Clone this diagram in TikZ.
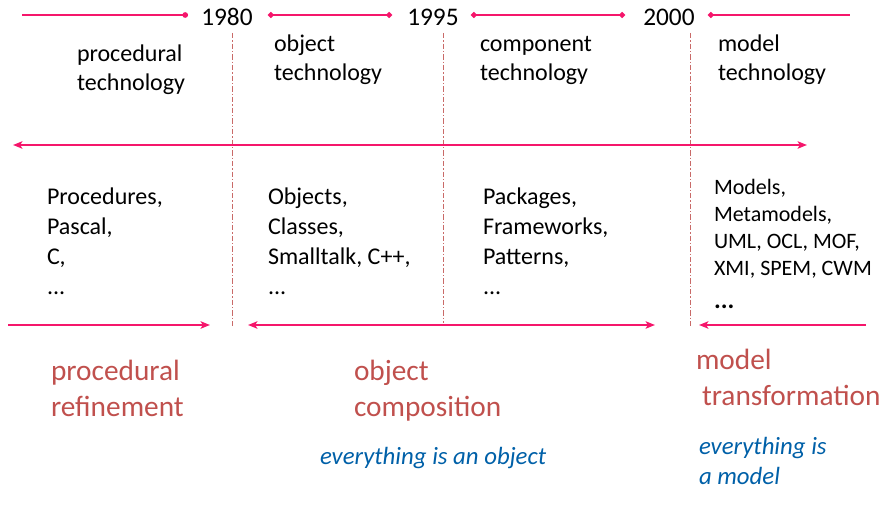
\documentclass[tikz,border=0pt]{standalone}
\usepackage{fontspec}
\setmainfont{Carlito}
\usetikzlibrary{arrows.meta}
\definecolor{pinkline}{HTML}{F5166B}
\definecolor{redtext}{HTML}{C0504D}
\definecolor{bluetext}{HTML}{0060A8}
\tikzset{
  bigtip/.tip={Stealth[length=7pt,width=5.5pt,inset=1.6pt]},
  enddot/.tip={Circle[length=4.2pt]}
}
\begin{document}
\begin{tikzpicture}[x=0.75pt,y=-0.75pt,
  txt/.style={anchor=base west,inner sep=0pt,outer sep=0pt,align=left},
  head/.style={txt,font=\fontsize{18}{21.75}\selectfont},
  listtxt/.style={txt,font=\fontsize{18}{22.5}\selectfont},
  smalllist/.style={txt,font=\fontsize{16.5}{20.25}\selectfont},
  redlbl/.style={txt,text=redtext,font=\fontsize{22}{27}\selectfont},
  bluelbl/.style={txt,text=bluetext,font=\fontsize{18.6}{22.5}\selectfont\itshape},
  year/.style={anchor=base west,inner sep=0pt,font=\fontsize{19}{22}\selectfont},
  timeline/.style={draw=pinkline,line width=1.6pt},
  dotted sep/.style={draw=redtext!85,line width=0.75pt,dash pattern=on 4pt off 1.5pt on 1pt off 1.5pt},
  bigarrow/.style={draw=pinkline,line width=2pt}
]
\useasboundingbox (0,0) rectangle (893,506);

% top timeline
\coordinate (t0) at (22,15);
\coordinate (t1) at (188,15);
\coordinate (t2) at (268,15);
\coordinate (t3) at (392,15);
\coordinate (t4) at (471,15);
\coordinate (t5) at (625,15);
\coordinate (t6) at (708,15);
\coordinate (t7) at (850,15);
\draw[timeline,line width=1.1pt,-{enddot}] (t0) -- (t1);
\draw[timeline,{enddot}-{enddot}] (t2) -- (t3);
\draw[timeline,{enddot}-{enddot}] (t4) -- (t5);
\draw[timeline,{enddot}-] (t6) -- (t7);

\node[year] (y1980) at (201,26) {1980};
\node[year] (y1995) at (407,26) {1995};
\node[year] (y2000) at (643,26) {2000};

% separators
\coordinate (s1a) at (232,33); \coordinate (s1b) at (232,326);
\coordinate (s2a) at (443,33); \coordinate (s2b) at (443,323);
\coordinate (s3a) at (690,33); \coordinate (s3b) at (690,326);
\draw[dotted sep] (s1a) -- (s1b);
\draw[dotted sep] (s2a) -- (s2b);
\draw[dotted sep] (s3a) -- (s3b);

% headings (anchor = baseline of last line)
\node[head] (h1) at (77,91) {procedural\\technology};
\node[head] (h2) at (274,81) {object\\technology};
\node[head] (h3) at (480,81) {component\\technology};
\node[head] (h4) at (718,81) {model\\technology};

% long arrow
\coordinate (la) at (13,145);
\coordinate (lb) at (807,145);
\draw[bigarrow,{bigtip}-{bigtip}] (la) -- (lb);

% lists
\node[listtxt] (l1) at (47,295) {Procedures,\\Pascal,\\C,\\...};
\node[listtxt] (l2) at (268,295) {Objects,\\Classes,\\Smalltalk, C++,\\...};
\node[listtxt] (l3) at (483,295) {Packages,\\Frameworks,\\Patterns,\\...};
\node[smalllist] (l4) at (714,308) {Models,\\Metamodels,\\UML, OCL, MOF,\\XMI, SPEM, CWM\\[4pt]{\fontsize{19}{20}\selectfont\bfseries ...}};

% bottom arrows
\coordinate (b1a) at (8,325);   \coordinate (b1b) at (210,325);
\coordinate (b2a) at (248,325); \coordinate (b2b) at (655,325);
\coordinate (b3a) at (866,325); \coordinate (b3b) at (699,325);
\draw[bigarrow,-{bigtip}] (b1a) -- (b1b);
\draw[bigarrow,{bigtip}-{bigtip}] (b2a) -- (b2b);
\draw[bigarrow,-{bigtip}] (b3a) -- (b3b);

% red labels
\node[redlbl] (r1) at (51,416) {procedural\\refinement};
\node[redlbl] (r2) at (354,416) {object\\composition};
\node[redlbl] (r3a) at (696,369) {model};
\node[redlbl] (r3b) at (702,405) {transformation};

% blue labels
\node[bluelbl] (e1) at (320,464) {everything is an object};
\node[bluelbl] (e2) at (699,484) {everything is\\a model};
\end{tikzpicture}
\end{document}
